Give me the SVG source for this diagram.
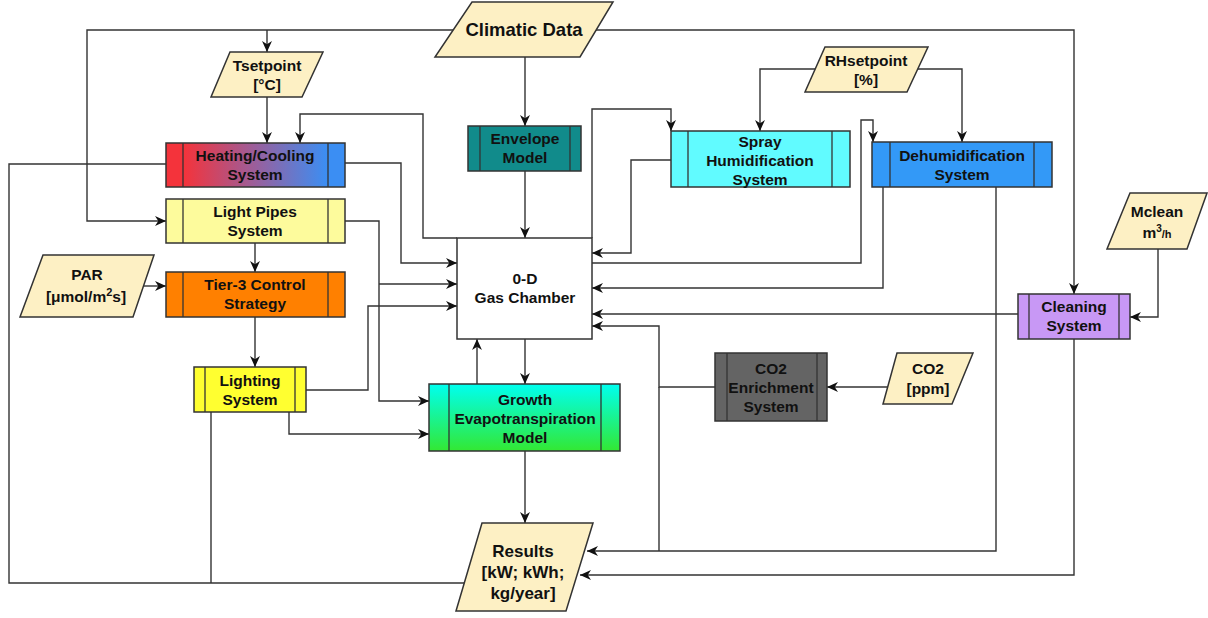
<svg xmlns="http://www.w3.org/2000/svg" width="1208" height="618" viewBox="0 0 1208 618">
<style>
.bx{stroke:#333;stroke-width:1.5}
.in{stroke:#333;stroke-width:1.3;fill:none}
.pg{fill:#fdf0c4;stroke:#333;stroke-width:1.5}
.t{font-family:"Liberation Sans",Arial,sans-serif;font-weight:bold;font-size:15.5px;fill:#111;text-anchor:middle}
.c{fill:none;stroke:#333;stroke-width:1.4}
.a{marker-end:url(#ar)}
</style>
<defs>
<marker id="ar" viewBox="0 0 10 10" markerWidth="11" markerHeight="11" refX="10" refY="5" orient="auto" markerUnits="userSpaceOnUse">
<path d="M0,0.5 L10,5 L0,9.5 L3,5 z" fill="#111"/>
</marker>
<linearGradient id="gHeat" x1="0" y1="0" x2="1" y2="0">
<stop offset="0.1" stop-color="#f4333b"/>
<stop offset="0.5" stop-color="#9a5f9c"/>
<stop offset="0.9" stop-color="#3b8ef3"/>
</linearGradient>
<linearGradient id="gGrow" x1="0" y1="0" x2="0" y2="1">
<stop offset="0" stop-color="#00fff0"/>
<stop offset="1" stop-color="#33e833"/>
</linearGradient>
</defs>
<rect width="1208" height="618" fill="#fff"/>

<g id="connectors">
<path class="c a" d="M453,30 H87 V221 H166"/>
<path class="c a" d="M267,30 V52"/>
<path class="c a" d="M596,30 H1074 V294"/>
<path class="c a" d="M525,57 V126"/>
<path class="c a" d="M267,97 V143"/>
<path class="c a" d="M457,238 H423 V114 H300 V143"/>
<path class="c a" d="M592,238 V109 H671 V131"/>
<path class="c a" d="M525,171 V238"/>
<path class="c a" d="M815,69 H760 V131"/>
<path class="c a" d="M918,69 H962 V142"/>
<path class="c a" d="M592,263 H861 V120 H873 V142"/>
<path class="c a" d="M671,160 H631 V253 H592"/>
<path class="c a" d="M883,187 V288 H592"/>
<path class="c a" d="M996,187 V551 H587"/>
<path class="c a" d="M1018,314 H592"/>
<path class="c a" d="M1158,249 V317 H1130"/>
<path class="c a" d="M1074,339 V575 H580"/>
<path class="c a" d="M888,387 H827"/>
<path class="c a" d="M715,387 H659 V326 H592"/>
<path class="c" d="M659,387 V551"/>
<path class="c a" d="M345,163 H401 V263 H457"/>
<path class="c a" d="M345,221 H379 V401 H429"/>
<path class="c a" d="M379,284 H457"/>
<path class="c a" d="M306,390 H368 V306 H457"/>
<path class="c a" d="M289,412 V434 H429"/>
<path class="c a" d="M255,243 V272"/>
<path class="c a" d="M255,317 V367"/>
<path class="c a" d="M143,286 H166"/>
<path class="c a" d="M525,339 V384"/>
<path class="c a" d="M477,384 V339"/>
<path class="c a" d="M525,451 V523"/>
<path class="c" d="M166,164 H9 V583 H465"/>
<path class="c" d="M211,412 V583"/>
</g>

<g id="climatic">
<polygon class="pg" points="472,2 613,2 580,57 435,57"/>
<text class="t" x="524" y="36" style="font-size:18.5px">Climatic Data</text>
</g>

<g id="tsetpoint">
<polygon class="pg" points="230,52 323,52 302,97 211,97"/>
<text class="t" x="267" y="71">Tsetpoint</text>
<text class="t" x="267" y="90">[°C]</text>
</g>

<g id="heating">
<rect class="bx" x="166" y="143" width="179" height="44" fill="url(#gHeat)"/>
<line class="in" x1="183" y1="143" x2="183" y2="187"/>
<line class="in" x1="328" y1="143" x2="328" y2="187"/>
<text class="t" x="255" y="161">Heating/Cooling</text>
<text class="t" x="255" y="180">System</text>
</g>

<g id="lightpipes">
<rect class="bx" x="166" y="199" width="179" height="44" fill="#fdfb9c"/>
<line class="in" x1="183" y1="199" x2="183" y2="243"/>
<line class="in" x1="328" y1="199" x2="328" y2="243"/>
<text class="t" x="255" y="217">Light Pipes</text>
<text class="t" x="255" y="236">System</text>
</g>

<g id="par">
<polygon class="pg" points="43,255 154,255 133,317 20,317"/>
<text class="t" x="87" y="280">PAR</text>
<text class="t" x="86" y="302">[μmol/m<tspan dy="-6" style="font-size:11px">2</tspan><tspan dy="6">s]</tspan></text>
</g>

<g id="tier3">
<rect class="bx" x="166" y="272" width="179" height="45" fill="#ff8000"/>
<line class="in" x1="183" y1="272" x2="183" y2="317"/>
<line class="in" x1="328" y1="272" x2="328" y2="317"/>
<text class="t" x="255" y="290">Tier-3 Control</text>
<text class="t" x="255" y="309">Strategy</text>
</g>

<g id="lighting">
<rect class="bx" x="194" y="367" width="112" height="45" fill="#ffff30"/>
<line class="in" x1="205" y1="367" x2="205" y2="412"/>
<line class="in" x1="295" y1="367" x2="295" y2="412"/>
<text class="t" x="250" y="386">Lighting</text>
<text class="t" x="250" y="405">System</text>
</g>

<g id="envelope">
<rect class="bx" x="468" y="126" width="113" height="45" fill="#118b8b"/>
<line class="in" x1="480" y1="126" x2="480" y2="171"/>
<line class="in" x1="570" y1="126" x2="570" y2="171"/>
<text class="t" x="525" y="144">Envelope</text>
<text class="t" x="525" y="163">Model</text>
</g>

<g id="chamber">
<rect class="bx" x="457" y="238" width="135" height="101" fill="#fff"/>
<text class="t" x="525" y="284">0-D</text>
<text class="t" x="525" y="303">Gas Chamber</text>
</g>

<g id="growth">
<rect class="bx" x="429" y="384" width="191" height="67" fill="url(#gGrow)"/>
<line class="in" x1="449" y1="384" x2="449" y2="451"/>
<line class="in" x1="601" y1="384" x2="601" y2="451"/>
<text class="t" x="525" y="405">Growth</text>
<text class="t" x="525" y="424">Evapotranspiration</text>
<text class="t" x="525" y="443">Model</text>
</g>

<g id="spray">
<rect class="bx" x="671" y="131" width="179" height="56" fill="#61fbff"/>
<line class="in" x1="688" y1="131" x2="688" y2="187"/>
<line class="in" x1="832" y1="131" x2="832" y2="187"/>
<text class="t" x="760" y="147">Spray</text>
<text class="t" x="760" y="166">Humidification</text>
<text class="t" x="760" y="185">System</text>
</g>

<g id="rhsetpoint">
<polygon class="pg" points="825,47 928,47 907,92 805,92"/>
<text class="t" x="866" y="66">RHsetpoint</text>
<text class="t" x="866" y="85">[%]</text>
</g>

<g id="dehumid">
<rect class="bx" x="872" y="142" width="180" height="45" fill="#3399f7"/>
<line class="in" x1="890" y1="142" x2="890" y2="187"/>
<line class="in" x1="1034" y1="142" x2="1034" y2="187"/>
<text class="t" x="962" y="161">Dehumidification</text>
<text class="t" x="962" y="180">System</text>
</g>

<g id="mclean">
<polygon class="pg" points="1130,193 1207,193 1187,249 1107,249"/>
<text class="t" x="1157" y="217">Mclean</text>
<text class="t" x="1157" y="238">m<tspan dy="-6" style="font-size:10px">3</tspan><tspan dy="6" style="font-size:11px">/h</tspan></text>
</g>

<g id="cleaning">
<rect class="bx" x="1018" y="294" width="112" height="45" fill="#c898f5"/>
<line class="in" x1="1029" y1="294" x2="1029" y2="339"/>
<line class="in" x1="1119" y1="294" x2="1119" y2="339"/>
<text class="t" x="1074" y="312">Cleaning</text>
<text class="t" x="1074" y="331">System</text>
</g>

<g id="co2enrich">
<rect class="bx" x="715" y="353" width="112" height="68" fill="#646464"/>
<line class="in" x1="727" y1="353" x2="727" y2="421"/>
<line class="in" x1="817" y1="353" x2="817" y2="421"/>
<text class="t" x="771" y="374">CO2</text>
<text class="t" x="771" y="393">Enrichment</text>
<text class="t" x="771" y="412">System</text>
</g>

<g id="co2ppm">
<polygon class="pg" points="897,353 973,353 952,404 883,404"/>
<text class="t" x="928" y="374">CO2</text>
<text class="t" x="928" y="394">[ppm]</text>
</g>

<g id="results">
<polygon class="pg" points="482,523 593,523 566,611 456,611"/>
<text class="t" x="523" y="557" style="font-size:17px">Results</text>
<text class="t" x="523" y="578" style="font-size:17px">[kW; kWh;</text>
<text class="t" x="523" y="599" style="font-size:17px">kg/year]</text>
</g>
</svg>
